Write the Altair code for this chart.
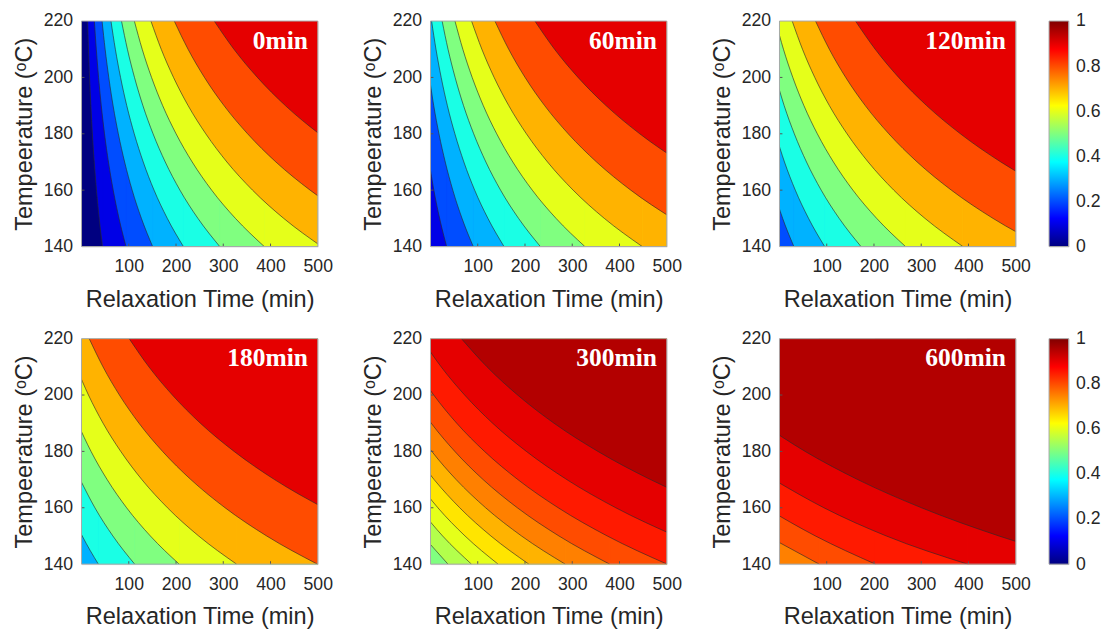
import altair as alt
import pandas as pd

# ---------------- data ----------------
TEMPS = [220, 210, 200, 190, 180, 170, 160, 150, 140]   # temperature grid (oC)
X_DOMAIN = [0, 500]
T_DOMAIN = [140, 220]
X_TICKS = [100, 200, 300, 400, 500]
Y_TICKS = [140, 160, 180, 200, 220]
CBAR_TICKS = [0, 0.2, 0.4, 0.6, 0.8, 1]

AGING = ["0min", "60min", "120min", "180min", "300min", "600min"]
BASE_LEVEL = [0.0, 0.1, 0.2, 0.3, 0.5, 0.75]   # band below the first contour

N = None
# relaxation time (min) at which each contour level crosses TEMPS
C_0 = {
    0.1: [12.9, 14.8, 17.0, 19.8, 23.0, 26.9, 31.7, 37.4, 44.5],
    0.2: [27.2, 31.3, 36.1, 41.8, 48.7, 57.0, 67.1, 79.3, 94.2],
    0.3: [43.5, 50.0, 57.7, 66.8, 77.9, 91.2, 107.2, 126.7, 150.5],
    0.4: [62.3, 71.6, 82.6, 95.7, 111.6, 130.6, 153.5, 181.5, 215.6],
    0.5: [84.6, 97.1, 112.1, 129.9, 151.4, 177.2, 208.3, 246.3, 292.5],
    0.6: [111.8, 128.4, 148.2, 171.7, 200.1, 234.2, 275.4, 325.6, 386.7],
    0.7: [146.9, 168.7, 194.7, 225.6, 263.0, 307.7, 361.9, 427.8, 508.1],
    0.8: [196.3, 225.5, 260.2, 301.6, 351.5, 411.4, 483.8, 571.8, N],
    0.9: [280.9, 322.6, 372.3, 431.5, 502.9, 588.5, N, N, N],
}
C_60 = {
    0.2: [N, N, N, N, N, -3.0, 7.1, 19.3, 34.2],
    0.3: [N, N, -2.3, 6.8, 17.9, 31.2, 47.2, 66.7, 90.5],
    0.4: [2.3, 11.6, 22.6, 35.7, 51.6, 70.6, 93.5, 121.5, 155.6],
    0.5: [24.6, 37.1, 52.1, 69.9, 91.4, 117.2, 148.3, 186.3, 232.5],
    0.6: [51.8, 68.4, 88.2, 111.7, 140.1, 174.2, 215.4, 265.6, 326.7],
    0.7: [86.9, 108.7, 134.7, 165.6, 203.0, 247.7, 301.9, 367.8, 448.1],
    0.8: [136.3, 165.5, 200.2, 241.6, 291.5, 351.4, 423.8, 511.8, N],
    0.9: [220.9, 262.6, 312.3, 371.5, 442.9, 528.5, N, N, N],
}
C_120 = {
    0.3: [N, N, N, N, N, N, -12.8, 6.7, 30.5],
    0.4: [N, N, N, N, -8.4, 10.6, 33.5, 61.5, 95.6],
    0.5: [N, N, -7.9, 9.9, 31.4, 57.2, 88.3, 126.3, 172.5],
    0.6: [-8.2, 8.4, 28.2, 51.7, 80.1, 114.2, 155.4, 205.6, 266.7],
    0.7: [26.9, 48.7, 74.7, 105.6, 143.0, 187.7, 241.9, 307.8, 388.1],
    0.8: [76.3, 105.5, 140.2, 181.6, 231.5, 291.4, 363.8, 451.8, 559.2],
    0.9: [160.9, 202.6, 252.3, 311.5, 382.9, 468.5, 572.2, N, N],
}
C_180 = {
    0.4: [N, N, N, N, N, N, -26.5, 1.5, 35.6],
    0.5: [N, N, N, N, N, -2.8, 28.3, 66.3, 112.5],
    0.6: [N, N, N, -8.3, 20.1, 54.2, 95.4, 145.6, 206.7],
    0.7: [N, -11.3, 14.7, 45.6, 83.0, 127.7, 181.9, 247.8, 328.1],
    0.8: [16.3, 45.5, 80.2, 121.6, 171.5, 231.4, 303.8, 391.8, 499.2],
    0.9: [100.9, 142.6, 192.3, 251.5, 322.9, 408.5, 512.2, N, N],
}
C_300 = {
    0.55: [N, N, N, N, N, N, N, -16.3, 37.0],
    0.6: [N, N, N, N, N, N, -24.6, 25.6, 86.7],
    0.65: [N, N, N, N, N, -31.7, 15.6, 73.0, 143.0],
    0.7: [N, N, N, N, -37.0, 7.7, 61.9, 127.8, 208.1],
    0.75: [N, N, N, -40.2, 2.8, 54.3, 116.7, 192.6, 285.0],
    0.8: [N, N, -39.8, 1.6, 51.5, 111.4, 183.8, 271.8, 379.2],
    0.85: [N, -34.2, 6.8, 55.5, 114.3, 184.9, 270.3, 374.0, 500.6],
    0.9: [-19.1, 22.6, 72.3, 131.5, 202.9, 288.5, 392.2, 518.1, N],
    0.95: [65.5, 119.7, 184.4, 261.4, 354.3, 465.7, 600.5, N, N],
}
C_600 = {
    0.8: [N, N, N, N, N, N, N, -26.0, 84.0],
    0.85: [N, N, N, N, N, N, -29.7, 76.0, 203.0],
    0.9: [N, N, N, N, N, -12.5, 94.0, 226.0, 398.0],
    0.95: [N, N, N, -38.6, 54.3, 165.7, 300.5, 464.4, 664.2],
}
CONTOURS = [C_0, C_60, C_120, C_180, C_300, C_600]

# ---------------- styling ----------------
W, H = 241, 230
CB_W = 20
FONT = "Liberation Sans"
TXT = "#262626"
FRAME = "#a8a8a8"
TICK = "#555555"
JET_STOPS = [(0.0, "#000080"), (0.125, "#0000ff"), (0.375, "#00ffff"),
             (0.625, "#ffff00"), (0.875, "#ff0000"), (1.0, "#800000")]


def jet(v):
    def c(x):
        return max(0.0, min(1.0, x))
    r = c(min(4 * v - 1.5, -4 * v + 4.5))
    g = c(min(4 * v - 0.5, -4 * v + 3.5))
    b = c(min(4 * v + 0.5, -4 * v + 2.5))
    return "#%02x%02x%02x" % (round(r * 255), round(g * 255), round(b * 255))


XAXIS = alt.Axis(values=X_TICKS, title="Relaxation Time (min)", grid=False, domain=False,
                 ticks=False, tickSize=0, labelFlush=False, labelFont=FONT, labelFontSize=18,
                 labelColor=TXT, labelPadding=12, titleFont=FONT, titleFontSize=24,
                 titleFontWeight="normal", titleColor=TXT, titlePadding=12, format="d")
YAXIS = alt.Axis(values=Y_TICKS, title="Tempeerature (\u1d52C)", grid=False, domain=False,
                 ticks=False, tickSize=0, labelFlush=False, labelFont=FONT, labelFontSize=18,
                 labelColor=TXT, labelPadding=9, titleFont=FONT, titleFontSize=24,
                 titleFontWeight="normal", titleColor=TXT, titlePadding=7, format="d")
XS = alt.Scale(domain=X_DOMAIN, nice=False, zero=False)
YS = alt.Scale(domain=T_DOMAIN, nice=False, zero=False)


def xenc(f):
    return alt.X(f, type="quantitative", scale=XS, axis=XAXIS)


def yenc(f):
    return alt.Y(f, type="quantitative", scale=YS, axis=YAXIS)


def panel(curves, base, label):
    bg_df = pd.DataFrame({"x": [X_DOMAIN[0]], "x2": [X_DOMAIN[1]],
                          "y": [T_DOMAIN[0]], "y2": [T_DOMAIN[1]]})
    layers = [alt.Chart(bg_df).mark_rect(color=jet(base), clip=True).encode(
        x=xenc("x"), x2="x2", y=yenc("y"), y2="y2")]
    line_rows = []
    for lvl, ts in curves.items():
        pts = [(t, T) for t, T in zip(ts, TEMPS) if t is not None]
        df = pd.DataFrame(pts, columns=["t", "T"])
        col = jet(lvl)
        layers.append(alt.Chart(df).mark_area(orient="vertical", interpolate="monotone",
                                              color=col, clip=True).encode(
            x=xenc("t"), y=yenc("T"), y2=alt.datum(T_DOMAIN[1])))
        t_last, T_last = pts[-1]
        if T_last <= T_DOMAIN[0] and t_last < X_DOMAIN[1]:
            ext = pd.DataFrame({"x": [t_last], "x2": [X_DOMAIN[1]],
                                "y": [T_DOMAIN[0]], "y2": [T_DOMAIN[1]]})
            layers.append(alt.Chart(ext).mark_rect(color=col, stroke=col, strokeWidth=1,
                                                   clip=True).encode(
                x=xenc("x"), x2="x2", y=yenc("y"), y2="y2"))
        for t, T in pts:
            line_rows.append({"t": t, "T": T, "level": lvl})
    ldf = pd.DataFrame(line_rows)
    layers.append(alt.Chart(ldf).mark_line(interpolate="monotone", color="#2a2a2a",
                                           strokeWidth=0.75, opacity=0.85, clip=True).encode(
        x=xenc("t"), y=yenc("T"), detail="level:N"))
    # small inward ticks (MATLAB style) along bottom and left edges
    xt = pd.DataFrame({"v": X_TICKS[:-1]})
    yt = pd.DataFrame({"v": Y_TICKS[1:-1]})
    layers.append(alt.Chart(xt).mark_rule(color=TICK, strokeWidth=1).encode(
        x=xenc("v"), y=alt.value(H), y2=alt.value(H - 3)))
    layers.append(alt.Chart(yt).mark_rule(color=TICK, strokeWidth=1).encode(
        y=yenc("v"), x=alt.value(0), x2=alt.value(3)))
    lab = pd.DataFrame({"label": [label]})
    layers.append(alt.Chart(lab).mark_rect(filled=False, stroke=FRAME, strokeWidth=1).encode(
        x=alt.value(0), x2=alt.value(W), y=alt.value(0), y2=alt.value(H)))
    layers.append(alt.Chart(lab).mark_text(align="right", baseline="alphabetic",
                                           font="Liberation Serif", fontWeight="bold",
                                           fontSize=26, color="white").encode(
        x=alt.value(W - 10), y=alt.value(28), text="label:N"))
    return alt.layer(*layers).properties(width=W, height=H)


def colorbar():
    df = pd.DataFrame({"lo": [CBAR_TICKS[0]], "hi": [CBAR_TICKS[-1]]})
    grad = alt.Gradient(gradient="linear", x1=0, x2=0, y1=1, y2=0,
                        stops=[alt.GradientStop(offset=o, color=c) for o, c in JET_STOPS])
    return alt.Chart(df).mark_rect(fill=grad, stroke=FRAME, strokeWidth=1).encode(
        x=alt.value(0), x2=alt.value(CB_W),
        y=alt.Y("lo:Q", scale=alt.Scale(domain=[CBAR_TICKS[0], CBAR_TICKS[-1]], nice=False),
                axis=alt.Axis(orient="right", values=CBAR_TICKS, format="~g", title=None,
                              grid=False, domain=False, ticks=False, tickSize=0,
                              labelFlush=False, labelFont=FONT, labelFontSize=18,
                              labelColor=TXT, labelPadding=7)),
        y2="hi:Q").properties(width=CB_W, height=H)


panels = [panel(c, b, l) for c, b, l in zip(CONTOURS, BASE_LEVEL, AGING)]
row1 = alt.hconcat(alt.hconcat(*panels[:3], spacing=28), colorbar(), spacing=17)
row2 = alt.hconcat(alt.hconcat(*panels[3:], spacing=28), colorbar(), spacing=17)
chart = alt.vconcat(row1, row2, spacing=17).properties(
    padding={"left": 4, "top": -3, "right": 0, "bottom": 0}
).configure_view(strokeWidth=0).configure(background="white")

chart.save("out.html", embed_options={"renderer": "svg", "actions": False})
